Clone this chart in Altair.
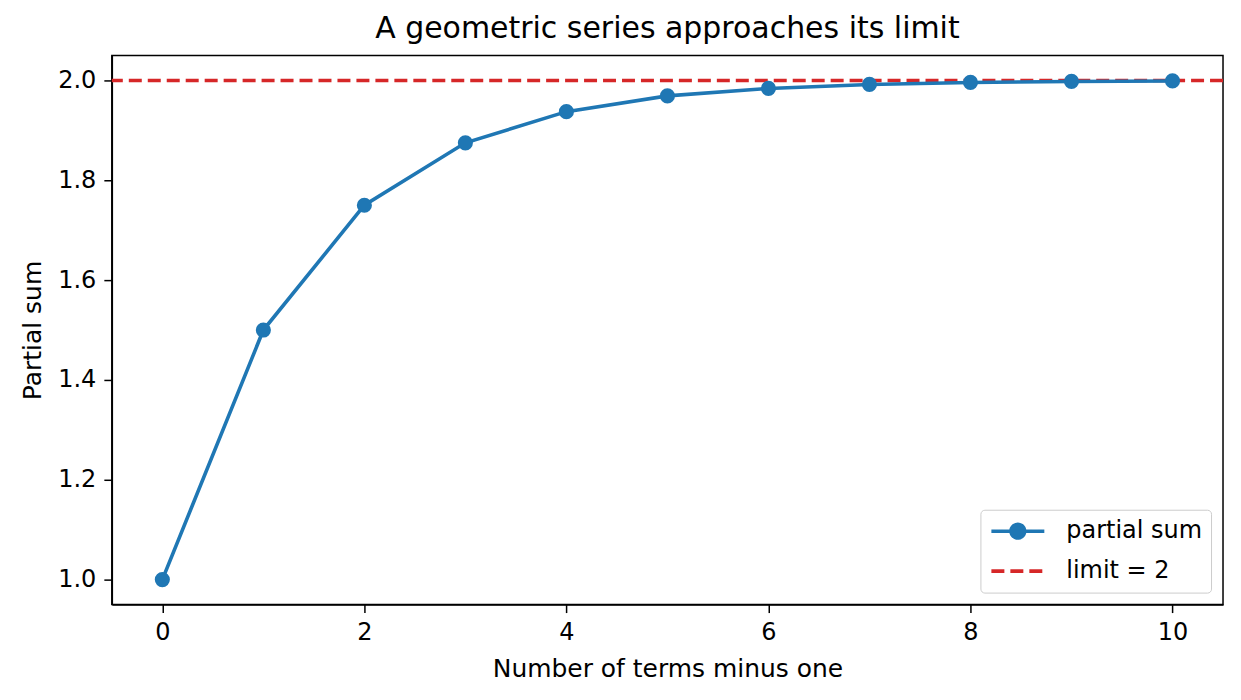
import altair as alt
import pandas as pd

# partial sums
terms = [0, 1, 2, 3, 4, 5, 6, 7, 8, 9, 10]
partial_sums = [1.0, 1.5, 1.75, 1.875, 1.9375, 1.969, 1.984, 1.992, 1.996, 1.998, 1.999]
limit = [2.0]
series_names = ["partial sum", "limit = 2"]

x_ticks = [0, 2, 4, 6, 8, 10]
y_ticks = [1.0, 1.2, 1.4, 1.6, 1.8, 2.0]

BLUE = "#1f77b4"
RED = "#d62728"
FONT = "DejaVu Sans"

sums = pd.DataFrame({"n": terms, "s": partial_sums})
lim = pd.DataFrame({"s": limit})

x_enc = alt.X(
    "n:Q",
    title="Number of terms minus one",
    scale=alt.Scale(domain=[-0.5, 10.5], nice=False, zero=False),
    axis=alt.Axis(values=x_ticks, format="d"),
)
y_enc = alt.Y(
    "s:Q",
    title="Partial sum",
    scale=alt.Scale(domain=[0.95, 2.05], nice=False, zero=False),
    axis=alt.Axis(values=y_ticks, format=".1f"),
)

line = alt.Chart(sums).mark_line(color=BLUE, strokeWidth=3.6).encode(x=x_enc, y=y_enc)
dots = alt.Chart(sums).mark_circle(color=BLUE, size=230, opacity=1).encode(x=x_enc, y=y_enc)
limit_rule = alt.Chart(lim).mark_rule(color=RED, strokeWidth=3.6, strokeDash=[13, 6]).encode(y=alt.Y("s:Q"))

# legend-only layer: no rows survive the filter, the legend comes from the fixed domain
line_marker = "M-1,0L4.05,0M2.17,0A0.65,0.65,0,1,1,0.87,0A0.65,0.65,0,1,1,2.17,0Z"
dash_only = "M-1,0L4.05,0"
legend_layer = (
    alt.Chart(sums.assign(series="partial sum"))
    .transform_filter("false")
    .mark_point(filled=True, size=441, opacity=1, strokeWidth=3.6)
    .encode(
        fill=alt.Fill("series:N", title=None,
                      scale=alt.Scale(domain=series_names, range=[BLUE, RED])),
        stroke=alt.Stroke("series:N", title=None,
                          scale=alt.Scale(domain=series_names, range=[BLUE, RED])),
        shape=alt.Shape("series:N", title=None,
                        scale=alt.Scale(domain=series_names, range=[line_marker, dash_only])),
        strokeDash=alt.StrokeDash("series:N", title=None,
                                  scale=alt.Scale(domain=series_names, range=[[1, 0], [13, 6]])),
    )
)

chart = (
    alt.layer(limit_rule, line, dots, legend_layer)
    .properties(
        width=1113,
        height=550,
        padding={"left": 12, "top": 5, "right": 8, "bottom": 5},
        title=alt.Title("A geometric series approaches its limit", fontSize=30,
                        fontWeight="normal", font=FONT, color="black", offset=12),
    )
    .configure_view(stroke="black", strokeWidth=1.5)
    .configure_axis(
        grid=False,
        labelFont=FONT, labelFontSize=24, labelColor="black", labelPadding=8,
        titleFont=FONT, titleFontSize=25, titleFontWeight="normal", titleColor="black",
        titlePadding=12,
        tickColor="black", tickSize=8, tickWidth=1.5,
        domainColor="black", domainWidth=1.5,
    )
    .configure_legend(
        orient="bottom-right", offset=12,
        labelFont=FONT, labelFontSize=24, labelColor="black", labelOffset=52,
        symbolSize=441, symbolStrokeWidth=3.6,
        padding=9, rowPadding=13,
        fillColor="rgba(255,255,255,0.8)", strokeColor="#cccccc", cornerRadius=4,
    )
)

chart.save("out.html", embed_options={"renderer": "svg", "actions": False})
